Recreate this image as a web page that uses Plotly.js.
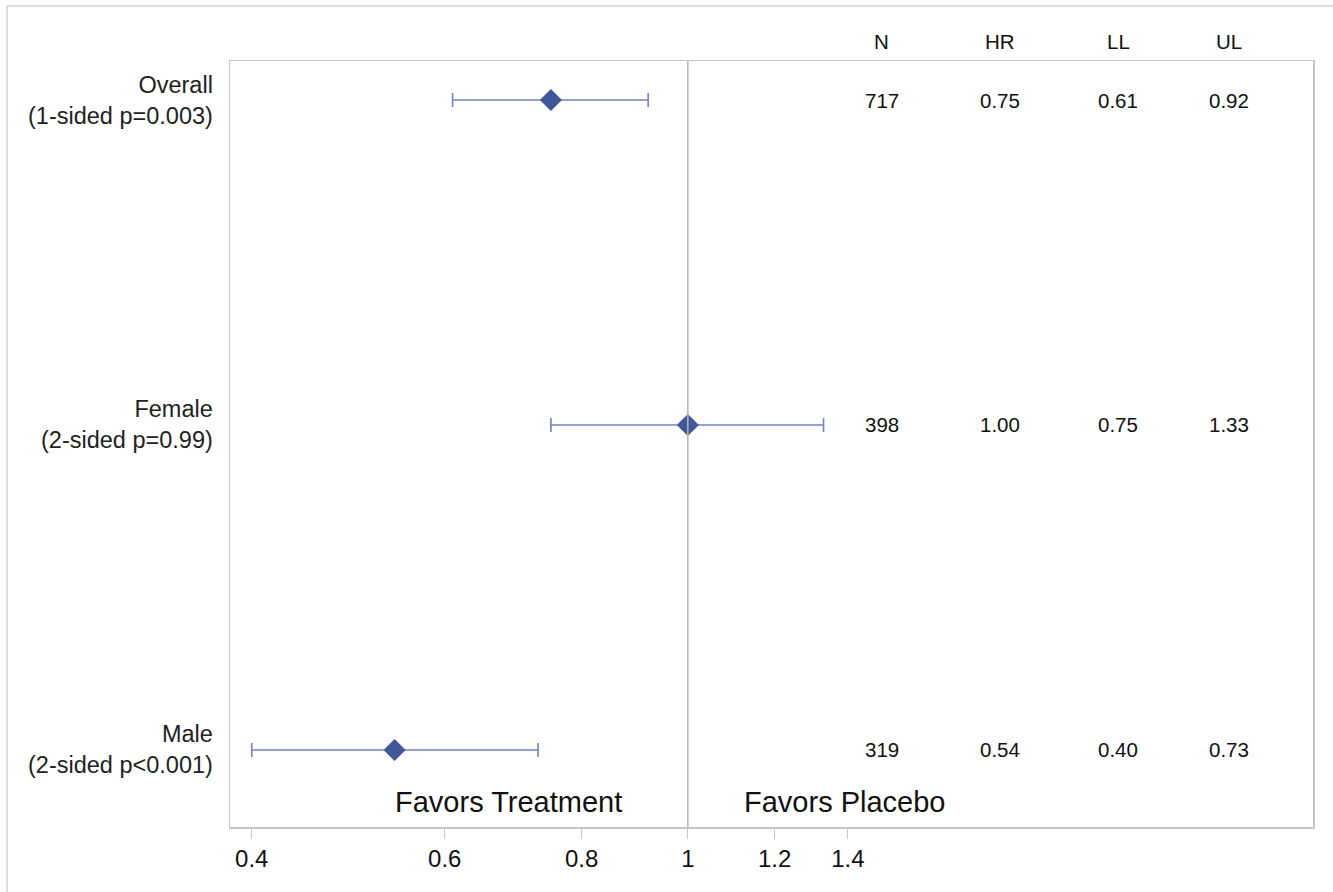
<!DOCTYPE html>
<html>
<head>
<meta charset="utf-8">
<script src="https://cdn.plot.ly/plotly-3.0.1.min.js"></script>
<style>
  html, body { margin: 0; padding: 0; background: #fff; }
  #chart { width: 1333px; height: 892px; }
</style>
</head>
<body>
<div id="chart"></div>
<script>
// ---- data ----
const subgroups = ["Overall", "Female", "Male"];
const pLabels = ["(1-sided p=0.003)", "(2-sided p=0.99)", "(2-sided p<0.001)"];
const yPos = [3, 2, 1];
const nVals = [717, 398, 319];
const hr = [0.75, 1.00, 0.54];
const ll = [0.61, 0.75, 0.40];
const ul = [0.92, 1.33, 0.73];
const colHeaders = ["N", "HR", "LL", "UL"];
const tickVals = [0.4, 0.6, 0.8, 1, 1.2, 1.4];
const tickText = ["0.4", "0.6", "0.8", "1", "1.2", "1.4"];

const FONT = "Liberation Sans, Arial, sans-serif";
const markerColor = "#41579a";
const errColor = "#7382c2";
const frameColor = "#c6c6c6";

const trace = {
  type: "scatter",
  mode: "markers",
  x: hr,
  y: yPos,
  marker: { symbol: "diamond", size: 17, color: markerColor },
  error_x: {
    type: "data",
    symmetric: false,
    array: hr.map((v, i) => ul[i] - v),
    arrayminus: hr.map((v, i) => v - ll[i]),
    color: errColor,
    thickness: 1.6,
    width: 7
  },
  hoverinfo: "skip",
  showlegend: false
};

const annotations = [];
// y-axis labels
subgroups.forEach((g, i) => {
  annotations.push({
    xref: "paper", yref: "y", x: -0.0135, y: yPos[i],
    xanchor: "right", yanchor: "middle", align: "right",
    text: g + "<br>" + pLabels[i], showarrow: false,
    font: { family: FONT, size: 23.5, color: "#222" }
  });
});
// column headers and values
const colX = [0.602, 0.711, 0.820, 0.922];
const colData = [nVals.map(String), hr.map(v => v.toFixed(2)), ll.map(v => v.toFixed(2)), ul.map(v => v.toFixed(2))];
colHeaders.forEach((h, c) => {
  annotations.push({
    xref: "paper", yref: "paper", x: colX[c], y: 1.025,
    xanchor: "center", yanchor: "middle", text: h, showarrow: false,
    font: { family: FONT, size: 20.5, color: "#111" }
  });
  colData[c].forEach((t, i) => {
    annotations.push({
      xref: "paper", yref: "y", x: colX[c], y: yPos[i],
      xanchor: "center", yanchor: "middle", text: t, showarrow: false,
      font: { family: FONT, size: 20.5, color: "#111" }
    });
  });
});
// favors labels
annotations.push({
  xref: "paper", yref: "paper", x: 0.2576, y: 0.0326,
  xanchor: "center", yanchor: "middle", text: "Favors Treatment", showarrow: false,
  font: { family: FONT, size: 29, color: "#111" }
});
annotations.push({
  xref: "paper", yref: "paper", x: 0.568, y: 0.0326,
  xanchor: "center", yanchor: "middle", text: "Favors Placebo", showarrow: false,
  font: { family: FONT, size: 29, color: "#111" }
});

const layout = {
  width: 1333, height: 892,
  margin: { l: 230, r: 20, t: 61, b: 65, pad: 0 },
  paper_bgcolor: "#fff", plot_bgcolor: "#fff",
  font: { family: FONT, size: 17, color: "#111" },
  xaxis: {
    type: "log",
    range: [-0.4178, 0.5705],
    tickvals: tickVals, ticktext: tickText,
    ticks: "outside", ticklen: 10, tickwidth: 1, tickcolor: frameColor,
    showgrid: false, zeroline: false,
    showline: true, linecolor: frameColor, linewidth: 1.5, mirror: true,
    tickfont: { family: FONT, size: 24, color: "#111" }
  },
  yaxis: {
    range: [0.763, 3.12],
    showticklabels: false, ticks: "",
    showgrid: false, zeroline: false,
    showline: true, linecolor: frameColor, linewidth: 1.5, mirror: true
  },
  shapes: [
    { type: "line", xref: "x", yref: "paper", x0: 1, x1: 1, y0: 0, y1: 1,
      line: { color: "#b4b4b4", width: 1.5 } },
    // outer figure border (top and left edges visible)
    { type: "line", xref: "paper", yref: "paper", x0: -0.2059, x1: 1.03, y0: 1.0718, y1: 1.0718,
      line: { color: "#d4d4d4", width: 1.5 } },
    { type: "line", xref: "paper", yref: "paper", x0: -0.2059, x1: -0.2059, y0: -0.09, y1: 1.0718,
      line: { color: "#d4d4d4", width: 1.5 } }
  ],
  annotations: annotations
};

Plotly.newPlot("chart", [trace], layout, { displayModeBar: false, staticPlot: true });
</script>
</body>
</html>
